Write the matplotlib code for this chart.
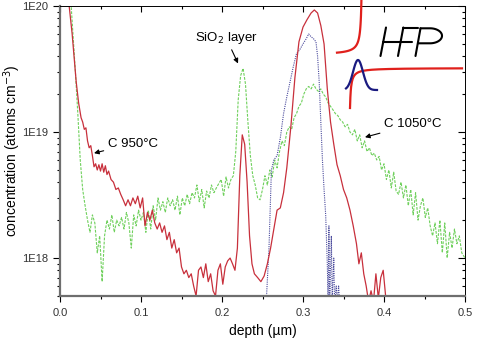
import numpy as np
import matplotlib
matplotlib.use("Agg")
import matplotlib.pyplot as plt

plt.rcParams['font.family'] = ['Liberation Sans', 'DejaVu Sans']

E18 = 1e18

# C 950 C profile (red)
x_950 = [0.010, 0.015, 0.020, 0.023, 0.026, 0.028, 0.030, 0.032, 0.034, 0.036, 0.038, 0.040,
         0.042, 0.044, 0.046, 0.048, 0.050, 0.052, 0.054, 0.056, 0.058, 0.060, 0.063, 0.066,
         0.069, 0.072, 0.075, 0.078, 0.081, 0.084, 0.087, 0.090, 0.093, 0.096, 0.099, 0.102,
         0.105, 0.108, 0.111, 0.114, 0.117, 0.120, 0.123, 0.126, 0.129, 0.132, 0.135, 0.138,
         0.141, 0.144, 0.147, 0.150, 0.153, 0.156, 0.159, 0.162, 0.165, 0.168, 0.171, 0.174,
         0.177, 0.180, 0.183, 0.186, 0.189, 0.192, 0.195, 0.198, 0.201, 0.204, 0.207, 0.210,
         0.213, 0.216, 0.219, 0.222, 0.225, 0.228, 0.231, 0.234, 0.237, 0.240, 0.244, 0.248,
         0.252, 0.256, 0.260, 0.264, 0.268, 0.272, 0.276, 0.280, 0.285, 0.290, 0.295, 0.300,
         0.305, 0.310, 0.314, 0.318, 0.322, 0.326, 0.330, 0.334, 0.338, 0.342, 0.346, 0.350,
         0.354, 0.358, 0.362, 0.366, 0.369, 0.372, 0.375, 0.378, 0.381, 0.384, 0.387, 0.390,
         0.393, 0.396, 0.399, 0.402, 0.405]
c_950 = [120, 60, 25, 17, 13, 12, 10.5, 10.8, 8.5, 7.5, 7.8, 6.5,
         5.3, 5.6, 5.0, 5.5, 4.9, 5.6, 4.8, 5.4, 4.6, 4.9, 4.2, 4.0,
         3.5, 3.6, 3.2, 2.9, 2.6, 2.9, 2.6, 3.0, 2.7, 3.1, 2.5, 3.0,
         1.8, 2.3, 2.0, 2.4, 1.9, 1.7, 1.9, 1.6, 1.8, 1.4, 1.6, 1.2,
         1.4, 1.1, 1.2, 0.85, 0.75, 0.8, 0.7, 0.75, 0.6, 0.5, 0.8, 0.85,
         0.7, 0.9, 0.65, 0.75, 0.55, 0.5, 0.8, 0.9, 0.62, 0.85, 0.95, 1.0,
         0.9, 0.8, 1.2, 4.5, 9.5, 8.0, 4.0, 1.5, 0.9, 0.75, 0.7, 0.65,
         0.72, 0.9, 1.2, 1.7, 2.4, 2.5, 3.3, 5.2, 11, 27, 52, 68,
         78, 88, 93, 88, 70, 50, 22, 12, 8, 5.5, 4.5, 3.5,
         3.0, 2.4, 1.8, 1.3, 0.9, 1.1, 0.75, 0.6, 0.45, 0.55, 0.45, 0.75,
         0.48, 0.7, 0.8, 0.5, 0.45]

# C 1050 C profile (green dashed)
x_1050 = [0.013, 0.016, 0.019, 0.022, 0.025, 0.028, 0.031, 0.034, 0.037, 0.040, 0.043, 0.046,
          0.049, 0.052, 0.055, 0.058, 0.061, 0.064, 0.067, 0.070, 0.073, 0.076, 0.079, 0.082,
          0.085, 0.088, 0.091, 0.094, 0.097, 0.100, 0.103, 0.106, 0.109, 0.112, 0.115, 0.118,
          0.121, 0.124, 0.127, 0.130, 0.133, 0.136, 0.139, 0.142, 0.145, 0.148, 0.151, 0.154,
          0.157, 0.160, 0.163, 0.166, 0.169, 0.172, 0.175, 0.178, 0.181, 0.184, 0.187, 0.190,
          0.193, 0.196, 0.199, 0.202, 0.205, 0.208, 0.211, 0.214, 0.217, 0.220, 0.223, 0.226,
          0.229, 0.232, 0.235, 0.238, 0.241, 0.244, 0.247, 0.250, 0.253, 0.256, 0.259, 0.262,
          0.265, 0.268, 0.271, 0.274, 0.277, 0.280, 0.283, 0.286, 0.289, 0.292, 0.295, 0.298,
          0.301, 0.304, 0.307, 0.310, 0.313, 0.316, 0.319, 0.322, 0.325, 0.328, 0.331, 0.334,
          0.337, 0.340, 0.343, 0.346, 0.349, 0.352, 0.355, 0.358, 0.361, 0.364, 0.367, 0.370,
          0.373, 0.376, 0.379, 0.382, 0.385, 0.388, 0.391, 0.394, 0.397, 0.400, 0.403, 0.406,
          0.409, 0.412, 0.415, 0.418, 0.421, 0.424, 0.427, 0.430, 0.433, 0.436, 0.439, 0.442,
          0.445, 0.448, 0.451, 0.454, 0.457, 0.460, 0.463, 0.466, 0.469, 0.472, 0.475, 0.478,
          0.481, 0.484, 0.487, 0.490, 0.493, 0.496, 0.500]
c_1050 = [120, 60, 30, 14, 6, 3.5, 2.6, 2.0, 1.6, 2.2, 1.9, 1.1,
          1.5, 0.65, 1.5, 2.0, 1.7, 2.2, 1.6, 2.0, 1.8, 2.1, 1.7, 2.3,
          1.9, 1.2, 2.2, 1.8, 2.4, 2.0, 2.3, 1.6, 2.4, 1.7, 2.6, 2.0,
          3.0, 2.4, 2.8, 2.3, 3.0, 2.6, 2.9, 2.4, 3.1, 2.2, 3.0, 2.6,
          3.2, 2.7, 3.3, 3.0, 3.8, 2.8, 3.5, 2.5, 3.4, 3.0, 3.8, 3.3,
          3.6, 3.9, 4.2, 3.1, 4.4, 3.6, 4.2, 4.5, 7.0, 18, 28, 32,
          24, 12, 6.5, 4.5, 3.8, 3.0, 2.9, 3.5, 4.5, 3.8, 5.0, 4.4,
          6.0, 5.2, 7.0, 8.5, 7.8, 10, 11, 10.5, 13, 14, 16, 17,
          20, 22, 23, 22, 24, 22, 21, 22, 20, 19, 17, 16,
          15, 14, 13.5, 12.5, 12, 11, 11.5, 10, 9.5, 10.5, 8.5, 9.5,
          7.5, 8.5, 7.0, 7.5, 6.5, 6.8, 6.0, 6.4, 5.0, 5.6, 4.2, 5.0,
          3.6, 4.8, 3.4, 3.2, 4.0, 3.0, 3.8, 2.6, 3.5, 2.2, 3.3, 2.0,
          2.6, 3.0, 2.1, 2.5, 1.8, 1.5, 1.9, 1.3, 2.0, 1.1, 1.9, 1.0,
          1.6, 1.2, 1.7, 1.3, 1.5, 1.1, 1.0]

# third profile (blue dotted)
x_blue = [0.255, 0.258, 0.261, 0.264, 0.268, 0.272, 0.276, 0.280, 0.284, 0.288, 0.292, 0.296,
          0.300, 0.304, 0.307, 0.310, 0.313, 0.316, 0.318, 0.320, 0.322, 0.324, 0.326, 0.328,
          0.330, 0.331, 0.332, 0.333, 0.335, 0.336, 0.338, 0.339, 0.341, 0.342, 0.344, 0.345]
c_blue = [0.5, 1.2, 5.0, 6.0, 6.5, 9, 14, 19, 25, 33, 42, 45,
          50, 55, 60, 57, 55, 52, 40, 25, 12, 6, 3.5, 2.2,
          0.9, 0.45, 1.8, 0.45, 1.5, 0.45, 1.0, 0.45, 0.6, 0.45, 0.6, 0.45]

y_ticks = [1e18, 1e19, 1e20]
y_ticklabels = ['1E18', '1E19', '1E20']
x_ticks = [0.0, 0.1, 0.2, 0.3, 0.4, 0.5]

fig = plt.figure(figsize=(4.9, 3.44), dpi=100)
ax = fig.add_axes([60/490, 48/344, 405/490, 290/344])

ax.plot(x_1050, np.array(c_1050) * E18, color='#6fd05c', lw=0.8, ls=(0, (2.5, 1.2)))
ax.plot(x_blue, np.array(c_blue) * E18, color='#4a4a9c', lw=0.8, ls=(0, (1, 1)))
ax.plot(x_950, np.array(c_950) * E18, color='#c8303c', lw=0.9)

ax.set_yscale('log')
ax.set_xlim(0, 0.5)
ax.set_ylim(5e17, 1e20)
ax.set_yticks(y_ticks)
ax.set_yticklabels(y_ticklabels)
ax.set_xticks(x_ticks)
ax.set_xticklabels(['%.1f' % v for v in x_ticks])
ax.set_xticks(np.arange(0.05, 0.5, 0.1), minor=True)

ax.tick_params(axis='both', which='major', labelsize=8, colors='black', labelcolor='#333333')
ax.tick_params(axis='y', which='major', direction='out', length=5, width=0.8, right=True)
ax.tick_params(axis='y', which='minor', direction='out', length=2.5, width=0.8, right=True,
               labelleft=False)
ax.tick_params(axis='x', which='major', direction='out', length=4, width=0.8, top=True, pad=5)
ax.tick_params(axis='x', which='minor', direction='out', length=2.5, width=0.8, top=True)
for t in ax.yaxis.get_major_ticks() + ax.yaxis.get_minor_ticks():
    t.tick2line.set_marker(matplotlib.lines.TICKLEFT)
for t in ax.xaxis.get_major_ticks() + ax.xaxis.get_minor_ticks():
    t.tick2line.set_marker(matplotlib.lines.TICKDOWN)

for s in ['left', 'bottom']:
    ax.spines[s].set_color('#6e6e6e')
    ax.spines[s].set_linewidth(1.6)
for s in ['top', 'right']:
    ax.spines[s].set_color('black')
    ax.spines[s].set_linewidth(0.7)

ax.set_xlabel('depth (\u00b5m)', fontsize=10, labelpad=4)
ax.set_ylabel('concentration (atoms cm$^{-3}$)', fontsize=10, labelpad=-1)

arrow = dict(arrowstyle='-|>', color='black', lw=0.8, mutation_scale=7, shrinkA=1, shrinkB=0)
ax.annotate('C 950\u00b0C', xy=(0.042, 6.8e18), xytext=(0.059, 8.1e18),
            fontsize=9.5, ha='left', va='center', arrowprops=arrow)
ax.annotate('C 1050\u00b0C', xy=(0.3765, 9.1e18), xytext=(0.400, 1.15e19),
            fontsize=9.5, ha='left', va='center', arrowprops=arrow)
ax.annotate('SiO$_2$ layer', xy=(0.2198, 3.5e19), xytext=(0.205, 5.6e19),
            fontsize=9.5, ha='center', va='center', arrowprops=arrow)

# HFP logo, drawn in figure pixel space
logo = fig.add_axes([0, 0, 1, 1], facecolor='none')
logo.set_xlim(0, 490)
logo.set_ylim(344, 0)
logo.axis('off')
xu = np.linspace(337, 361.6, 120)
logo.plot(xu, 55 - 60 / (362 - xu + 0.5), color='#e0201c', lw=1.6)
xl = np.linspace(350, 462, 300)
logo.plot(xl, 68 + 40 / (xl - 349), color='#e0201c', lw=1.6)
xb = np.linspace(346, 377, 100)
logo.plot(xb, 90 - 30 * np.exp(-((xb - 358) / 7) ** 2), color='#1a1a80', lw=1.6)

# hand-drawn style letters H F P
kw = dict(color='black', lw=1.5, solid_capstyle='round')
logo.plot([380.5, 386], [56, 27.5], **kw)
logo.plot([398, 403.3], [56, 27.5], **kw)
logo.plot([383, 412], [42, 42], **kw)
logo.plot([403, 417.5], [28.3, 28.3], **kw)
logo.plot([415.5, 420.5], [56, 28.3], **kw)
t = np.linspace(-np.pi / 2, np.pi / 2, 60)
logo.plot(np.r_[420.5, 430 + 12 * np.cos(t)[::-1] * 1.0, 418.3],
          np.r_[28.3, 35.8 - 7.5 * np.sin(t)[::-1], 43.3], **kw)

fig.savefig('out.png', dpi=100)
